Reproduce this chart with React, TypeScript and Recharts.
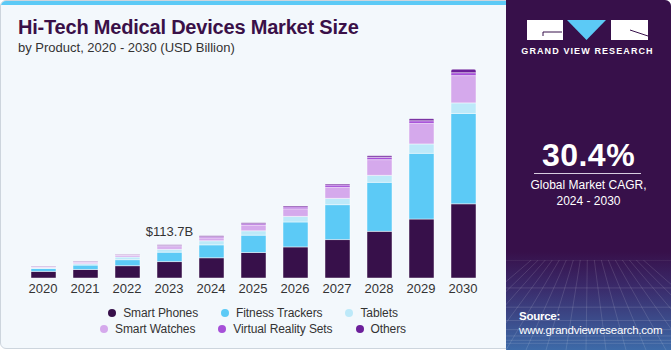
import { BarChart, Bar, XAxis, YAxis, Legend, LabelList } from 'recharts';

const years = ['2020', '2021', '2022', '2023', '2024', '2025', '2026', '2027', '2028', '2029', '2030'];
const smartPhones = [22.5, 29, 42, 56, 69, 87, 106, 131, 159, 201, 253];
const fitnessTrackers = [10, 15, 20.5, 32, 44, 59, 85, 119, 167, 224, 308];
const tablets = [2.5, 5, 9, 10, 14, 15, 19, 21.5, 24, 32, 36];
const smartWatches = [2.5, 4, 5, 9, 10, 19.5, 26, 37.5, 53.5, 70, 93];
const vrSets = [1.5, 2, 2, 3.5, 4, 4.5, 6, 8, 8, 9, 10];
const others = [1.5, 2, 1.5, 3.2, 3, 3.5, 3.5, 3.5, 5, 7, 12];
const calloutYear = '2023';
const calloutText = '$113.7B';

const series = [
  { key: 'smartPhones', name: 'Smart Phones', color: '#37104a' },
  { key: 'fitnessTrackers', name: 'Fitness Trackers', color: '#5ccaf6' },
  { key: 'tablets', name: 'Tablets', color: '#bde9f9' },
  { key: 'smartWatches', name: 'Smart Watches', color: '#d5a9ec' },
  { key: 'vrSets', name: 'Virtual Reality Sets', color: '#a650d8' },
  { key: 'others', name: 'Others', color: '#6c1f9a' },
];

const data = years.map((year, i) => ({
  year,
  smartPhones: smartPhones[i],
  fitnessTrackers: fitnessTrackers[i],
  tablets: tablets[i],
  smartWatches: smartWatches[i],
  vrSets: vrSets[i],
  others: others[i],
}));

const FONT = '"Liberation Sans", Arial, sans-serif';

const LegendRows = () => {
  const rows = [series.slice(0, 3), series.slice(3)];
  return (
    <div style={{ fontFamily: FONT, fontSize: 12, letterSpacing: -0.1, color: '#333' }}>
      {rows.map((row, r) => (
        <div key={r} style={{ display: 'flex', justifyContent: 'center', gap: 23, height: 16, alignItems: 'center' }}>
          {row.map((s) => (
            <div key={s.key} style={{ display: 'flex', alignItems: 'center' }}>
              <span
                style={{
                  width: 8,
                  height: 8,
                  borderRadius: '50%',
                  background: s.color,
                  display: 'inline-block',
                  marginRight: 7,
                }}
              />
              <span>{s.name}</span>
            </div>
          ))}
        </div>
      ))}
    </div>
  );
};

const Callout = (props: any) => {
  const { x, y, width, index } = props;
  if (data[index]?.year !== calloutYear) return null;
  return (
    <text
      x={Number(x) + Number(width) / 2}
      y={Number(y) - 9}
      textAnchor="middle"
      fontFamily={FONT}
      fontSize={13}
      fill="#333"
    >
      {calloutText}
    </text>
  );
};

const GridFloor = () => {
  const lines = [];
  for (let i = 0; i <= 16; i++) {
    const bx = -80 + i * 20;
    lines.push(<line key={'v' + i} x1={82 + (bx - 82) * 0.35} y1={0} x2={bx} y2={90} />);
  }
  for (let j = 0; j < 8; j++) {
    const yy = 90 - 90 / Math.pow(1.45, j);
    lines.push(<line key={'h' + j} x1={0} y1={yy} x2={165} y2={yy} />);
  }
  return (
    <svg width={165} height={90} style={{ position: 'absolute', left: 0, bottom: 0 }}>
      <g stroke="rgba(255,255,255,0.16)" strokeWidth={0.8}>{lines}</g>
    </svg>
  );
};

export default function App() {
  return (
    <div style={{ position: 'relative', width: 671, height: 350, background: '#ffffff', overflow: 'hidden' }}>
      <style>{'body{margin:0}'}</style>
      <div
        style={{
          position: 'absolute',
          left: 0,
          top: 0,
          width: 669,
          height: 347,
          background: '#f3f8fc',
          border: '1px solid #cdd5dd',
          borderRadius: 6,
          overflow: 'hidden',
        }}
      >
        <div style={{ position: 'absolute', left: 0, top: 0, width: '100%', height: 4, background: '#5ccaf6' }} />
      </div>

      <div
        style={{
          position: 'absolute',
          left: 18,
          top: 16,
          fontFamily: FONT,
          fontWeight: 700,
          fontSize: 20,
          color: '#3a1048',
          whiteSpace: 'nowrap',
          lineHeight: '22px',
          letterSpacing: -0.2,
        }}
      >
        Hi-Tech Medical Devices Market Size
      </div>
      <div
        style={{
          position: 'absolute',
          left: 18,
          top: 40,
          fontFamily: FONT,
          fontSize: 13,
          color: '#333',
          whiteSpace: 'nowrap',
        }}
      >
        by Product, 2020 - 2030 (USD Billion)
      </div>

      <div style={{ position: 'absolute', left: 0, top: 0 }}>
        <BarChart
          width={506}
          height={350}
          data={data}
          margin={{ top: 58, right: 22, bottom: 42, left: 22 }}
          barSize={25}
        >
          <XAxis
            dataKey="year"
            axisLine={false}
            tickLine={false}
            tickSize={6}
            tickMargin={0}
            height={30}
            interval={0}
            tick={{ fontFamily: FONT, fontSize: 13, fill: '#333' }}
          />
          <YAxis hide domain={[0, 750]} />
          <Legend
            layout="horizontal"
            verticalAlign="middle"
            align="center"
            wrapperStyle={{ top: 305, left: 0, width: 506 }}
            content={<LegendRows />}
          />
          {series.map((s, i) => (
            <Bar
              key={s.key}
              dataKey={s.key}
              name={s.name}
              stackId="a"
              fill={s.color}
              stroke="rgba(255,255,255,0.45)"
              strokeWidth={1}
              radius={i === series.length - 1 ? [2, 2, 0, 0] : 0}
              isAnimationActive={false}
            >
              {i === series.length - 1 && <LabelList dataKey="others" content={<Callout />} />}
            </Bar>
          ))}
        </BarChart>
      </div>

      <div
        style={{
          position: 'absolute',
          left: 506,
          top: 0,
          width: 165,
          height: 350,
          background: 'linear-gradient(180deg, #37104a 0%, #37104a 72%, #3a2a6a 82%, #3d6aa8 100%)',
          borderTopRightRadius: 6,
          overflow: 'hidden',
          fontFamily: FONT,
          color: '#fff',
        }}
      >
        <GridFloor />
        <svg width={165} height={60} style={{ position: 'absolute', left: 0, top: 0 }}>
          <rect x={21} y={20} width={36} height={20} fill="#fff" />
          <line x1={37} y1={32} x2={56} y2={32} stroke="#37104a" strokeWidth={1} />
          <line x1={37} y1={32} x2={37} y2={36} stroke="#37104a" strokeWidth={1} />
          <polygon points="61,20 100,20 80.5,40" fill="#5ccaf6" />
          <rect x={105} y={20} width={37} height={20} fill="#fff" />
          <line x1={124} y1={30} x2={142} y2={36} stroke="#37104a" strokeWidth={1} />
          <text
            x={81.5}
            y={54}
            textAnchor="middle"
            fontFamily={FONT}
            fontWeight={700}
            fontSize={9}
            letterSpacing={1.1}
            fill="#fff"
          >
            GRAND VIEW RESEARCH
          </text>
        </svg>
        <div style={{ position: 'absolute', left: 0, width: 165, top: 138, textAlign: 'center', fontWeight: 700, fontSize: 32, lineHeight: '34px', letterSpacing: 0.5 }}>
          30.4%
        </div>
        <div style={{ position: 'absolute', left: 28, width: 107, top: 173, height: 1, background: '#d8cde0' }} />
        <div style={{ position: 'absolute', left: 0, width: 165, top: 177, textAlign: 'center', fontSize: 12, lineHeight: '16px' }}>
          Global Market CAGR,
          <br />
          2024 - 2030
        </div>
        <div style={{ position: 'absolute', left: 13, top: 309, fontSize: 11.5, lineHeight: '14px', letterSpacing: -0.25, whiteSpace: 'nowrap' }}>
          <div style={{ fontWeight: 700 }}>Source:</div>
          <div>www.grandviewresearch.com</div>
        </div>
      </div>
    </div>
  );
}
